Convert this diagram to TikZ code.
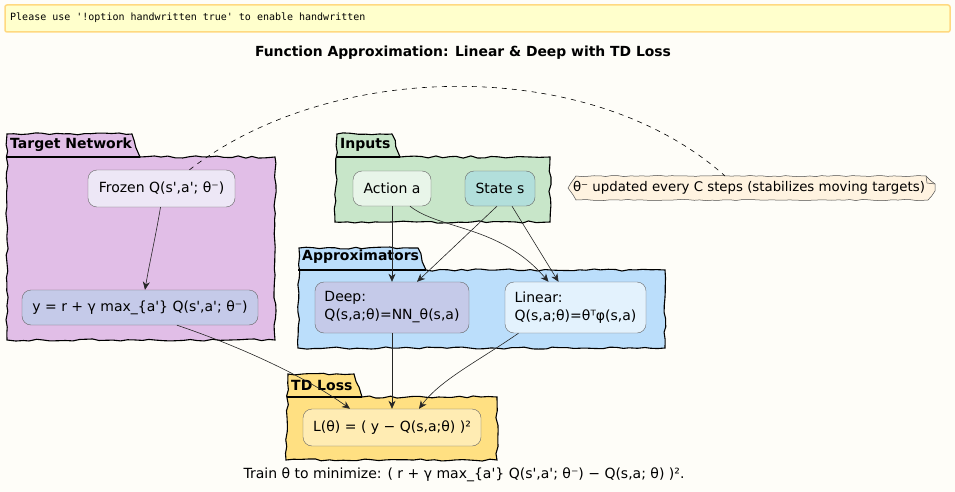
\documentclass[tikz,border=0pt]{standalone}
\usepackage{fontspec}
\setmainfont{DejaVu Sans}
\setmonofont{DejaVu Sans Mono}
\usetikzlibrary{arrows.meta,decorations.pathmorphing,calc}
\newcommand\sq{\textquotesingle}
\definecolor{bgc}{HTML}{FEFDF8}
\definecolor{bannerf}{HTML}{FFFFCC}
\definecolor{bannerd}{HTML}{FFD980}
\definecolor{tgtf}{HTML}{E1BEE7}
\definecolor{frozf}{HTML}{EDE7F6}
\definecolor{yf}{HTML}{C5CAE9}
\definecolor{inpf}{HTML}{C8E6C9}
\definecolor{actf}{HTML}{E8F5E9}
\definecolor{stf}{HTML}{B2DFDB}
\definecolor{appf}{HTML}{BBDEFB}
\definecolor{linf}{HTML}{E3F2FD}
\definecolor{tdf}{HTML}{FFE082}
\definecolor{lf}{HTML}{FFECB3}
\definecolor{notef}{HTML}{FFF3E0}
\pgfmathsetseed{7}
\tikzset{
  pkg/.style={draw=black, line width=1.1pt, decorate, decoration={random steps,segment length=7pt,amplitude=1.1pt}},
  pkgtitle/.style={font=\bfseries\fontsize{14}{16}\selectfont, anchor=west, inner sep=0pt},
  box/.style={draw=black!60, line width=0.4pt, rounded corners=9pt, font=\fontsize{14}{18}\selectfont, inner sep=0pt},
  arr/.style={-{Stealth[length=8pt,width=7pt,inset=2.5pt]}, line width=0.6pt, black!85},
}
\begin{document}
\begin{tikzpicture}[x=1pt,y=-1pt]
\useasboundingbox (0,0) rectangle (955,492);
\fill[bgc] (0,0) rectangle (955,492);
% banner
\draw[bannerd, fill=bannerf, line width=1.5pt, rounded corners=2pt] (5,5) rectangle (950,32);
\node[font=\ttfamily\fontsize{10}{11}\selectfont, anchor=west, inner sep=0pt] (banner) at (10,18) {Please use '!option handwritten true' to enable handwritten};
% title
\node[font=\bfseries\fontsize{13.9}{16}\selectfont, inner sep=0pt] (title) at (463,53) {Function Approximation: Linear \& Deep with TD Loss};

% Target Network package
\path[pkg, fill=tgtf] (7,134) -- (132,134) -- (140,157) -- (275,157) -- (275,340) -- (7,340) -- cycle;
\draw[line width=1.1pt] (7,157) -- (140,157);
\node[pkgtitle] (tgtt) at (10,145) {Target Network};
% Inputs package
\path[pkg, fill=inpf] (337,134) -- (392,134) -- (400,157) -- (550,157) -- (550,222) -- (335,222) -- cycle;
\draw[line width=1.1pt] (336,157) -- (400,157);
\node[pkgtitle] (inpt) at (340,145) {Inputs};
% Approximators package
\path[pkg, fill=appf] (299,248) -- (418,248) -- (426,270) -- (665,270) -- (665,348) -- (298,348) -- cycle;
\draw[line width=1.1pt] (298,270) -- (426,270);
\node[pkgtitle] (appt) at (302,257) {Approximators};
% TD Loss package
\path[pkg, fill=tdf] (288,374) -- (354,374) -- (362,397) -- (497,397) -- (497,460) -- (286,460) -- cycle;
\draw[line width=1.1pt] (287,397) -- (362,397);
\node[pkgtitle] (tdt) at (291,385) {TD Loss};

% nodes
\node[box, fill=frozf, minimum width=147pt, minimum height=37pt] (froz) at (161.5,188.5) {Frozen Q(s\sq,a\sq; θ⁻)};
\node[box, fill=yf, minimum width=236pt, minimum height=35pt] (ytgt) at (140,307.5) {y = r + γ max\_\{a\sq\} Q(s\sq,a\sq; θ⁻)};
\node[box, fill=actf, minimum width=78pt, minimum height=35pt] (act) at (392,188.5) {Action a};
\node[box, fill=stf, minimum width=70pt, minimum height=35pt] (st) at (500,188.5) {State s};
\node[box, fill=yf, minimum width=154pt, minimum height=51pt, align=left] (deep) at (392,307.5) {Deep:\\Q(s,a;θ)=NN\_θ(s,a)};
\node[box, fill=linf, minimum width=141pt, minimum height=51pt, align=left] (lin) at (575.5,307.5) {Linear:\\Q(s,a;θ)=θᵀφ(s,a)};
\node[box, fill=lf, minimum width=178pt, minimum height=37pt] (loss) at (392,427.5) {L(θ) = ( y − Q(s,a;θ) )²};

% note
\path[draw=black!70, line width=0.5pt, fill=notef, decorate, decoration={random steps,segment length=6pt,amplitude=0.6pt}] (568,188) -- (576,176) -- (926,176) -- (935,184) -- (935,191) -- (928,200) -- (576,200) -- cycle;
\draw[black!70, line width=0.5pt] (926,176) -- (927,183) -- (935,184);
\node[font=\fontsize{13.3}{15}\selectfont, inner sep=0pt] (note) at (749,188) {θ⁻ updated every C steps (stabilizes moving targets)};
\coordinate (nt) at (725,176);
\draw[dashed, line width=0.6pt, dash pattern=on 5pt off 5pt] ($(froz.north)+(28,0)$) .. controls (330,60) and (590,55) .. (nt);

% arrows
\draw[arr] (froz.south) ++(-1,0) .. controls (155,240) and (150,260) .. ($(ytgt.north)+(5,0)$);
\draw[arr] (act.south) -- (deep.north);
\draw[arr] ($(act.south)+(18,0)$) .. controls (440,230) and (500,225) .. ($(lin.north)+(-27,0)$);
\draw[arr] ($(st.south)+(-3,0)$) -- ($(deep.north)+(25,0)$);
\draw[arr] ($(st.south)+(12,0)$) -- ($(lin.north)+(-17,0)$);
\draw[arr] ($(ytgt.south)+(37,0)$) .. controls (250,350) and (310,380) .. ($(loss.north)+(-42,0)$);
\draw[arr] (deep.south) -- (loss.north);
\draw[arr] ($(lin.south)+(-57,0)$) .. controls (480,360) and (440,380) .. ($(loss.north)+(27,0)$);

% caption
\node[font=\fontsize{14}{16}\selectfont, inner sep=0pt] (cap) at (464,475) {Train θ to minimize: ( r + γ max\_\{a\sq\} Q(s\sq,a\sq; θ⁻) − Q(s,a; θ) )².};
\end{tikzpicture}
\end{document}
